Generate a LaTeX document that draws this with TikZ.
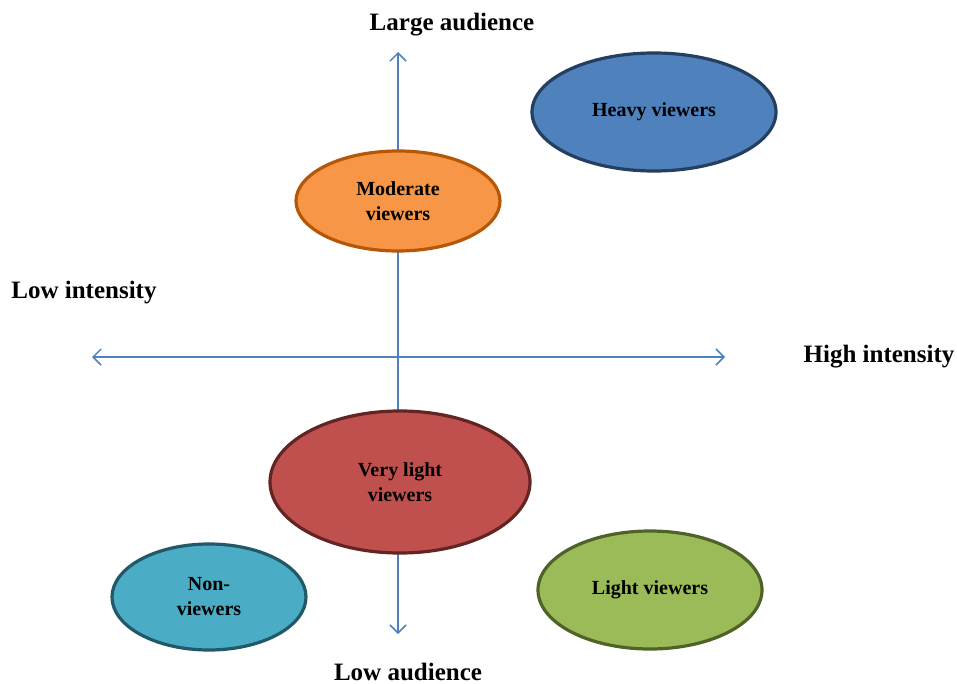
\documentclass[tikz,border=0pt]{standalone}
\usepackage{fontspec}
\setmainfont{Liberation Serif}
\usepackage{xcolor}
\usepackage{tikz}
\usetikzlibrary{arrows.meta, shapes.geometric}
\definecolor{tvaxis}{HTML}{4F81BD}
\definecolor{tvblue}{HTML}{4F81BD}
\definecolor{tvbluedk}{HTML}{243F60}
\definecolor{tvorange}{HTML}{F79646}
\definecolor{tvorangedk}{HTML}{B65708}
\definecolor{tvred}{HTML}{C0504D}
\definecolor{tvreddk}{HTML}{632523}
\definecolor{tvteal}{HTML}{4BACC6}
\definecolor{tvtealdk}{HTML}{215968}
\definecolor{tvgreen}{HTML}{9BBB59}
\definecolor{tvgreendk}{HTML}{4F6228}

\begin{document}
\begin{tikzpicture}[x=0.5pt, y=-0.5pt,
    axislabel/.style={font=\fontsize{12.5}{14}\selectfont\bfseries, yshift=-1.5pt},
    viewers/.style={ellipse, draw=#1dk, fill=#1, line width=1.6pt, inner sep=0pt,
                    align=center, font=\fontsize{10}{12.5}\selectfont\bfseries},
    axisline/.style={tvaxis, line width=0.75pt, {Straight Barb[length=4pt,width=8pt]}-{Straight Barb[length=4pt,width=8pt]}}]
  \useasboundingbox (0,0) rectangle (957,684);
  % axes
  \coordinate (top) at (398,52);
  \coordinate (bottom) at (398,634);
  \coordinate (left) at (92,357);
  \coordinate (right) at (725,357);
  \draw[axisline] (bottom) -- (top);
  \draw[axisline] (left) -- (right);
  \node[axislabel] (large) at (452,22) {Large audience};
  \node[axislabel, yshift=1.5pt, inner sep=1pt] (low) at (408,672) {Low audience};
  \node[axislabel] (lowint) at (84,290) {Low intensity};
  \node[axislabel] (highint) at (879,354) {High intensity};
  % viewer groups
  \node[viewers=tvblue, minimum width=122pt, minimum height=59pt] (heavy) at (654,112) {Heavy viewers};
  \node[viewers=tvorange, minimum width=102pt, minimum height=50pt] (moderate) at (398,201) {Moderate\\viewers};
  \node[viewers=tvred, minimum width=130pt, minimum height=71pt] (verylight) at (400,482) {Very light\\viewers};
  \node[viewers=tvteal, minimum width=97pt, minimum height=53pt] (non) at (209,597) {Non-\\viewers};
  \node[viewers=tvgreen, minimum width=112pt, minimum height=59pt] (light) at (650,590) {Light viewers};
\end{tikzpicture}
\end{document}
